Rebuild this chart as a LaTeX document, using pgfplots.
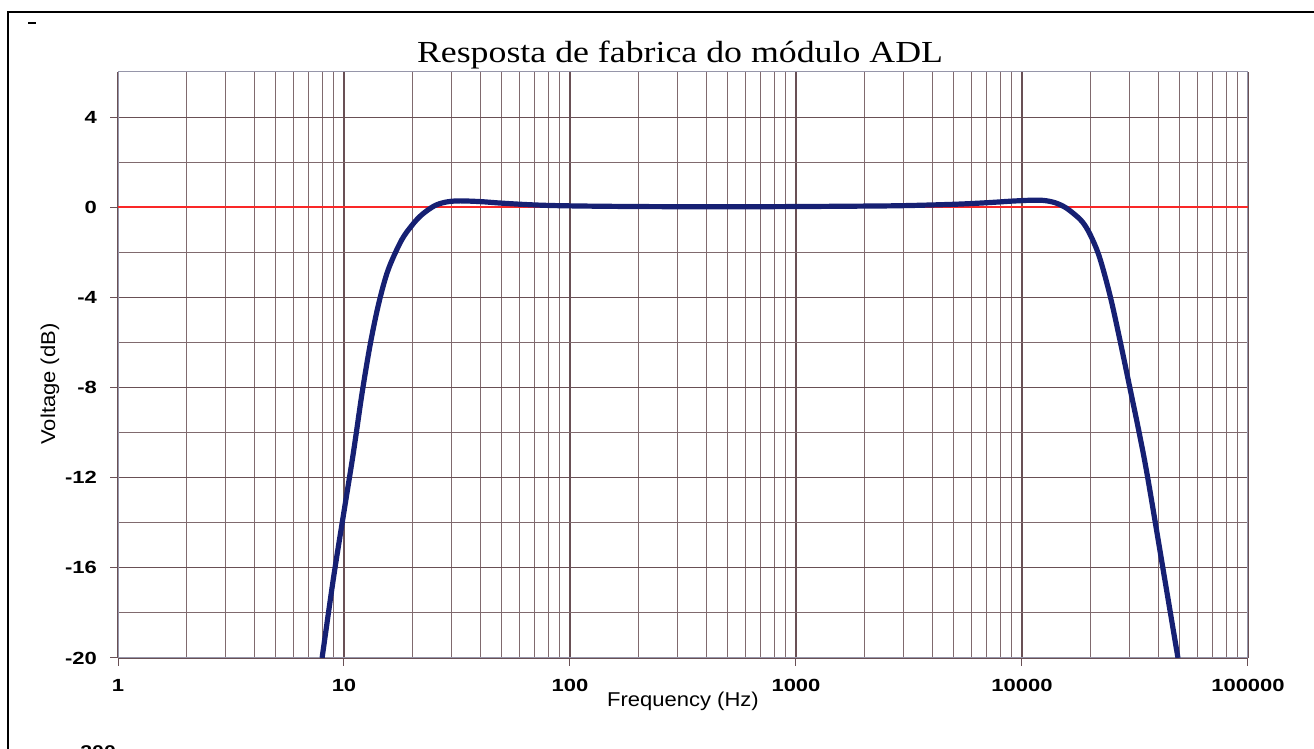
\documentclass[border=0pt]{standalone}
\usepackage{pgfplots}
\pgfplotsset{compat=1.18}
\usepackage{fontspec}
\setmainfont{Liberation Sans}
\newfontfamily\tickfont[FakeStretch=1.25]{Liberation Sans}
\newfontfamily\labfont[FakeStretch=1.1]{Liberation Sans}
\newfontfamily\titlefont[FakeStretch=1.17]{Liberation Serif}
\definecolor{curve}{RGB}{22,32,115}
\definecolor{zero}{RGB}{250,40,40}
\definecolor{gridc}{RGB}{105,80,85}
\definecolor{framec}{RGB}{150,150,170}
\begin{document}
\begin{tikzpicture}[x=1pt,y=1pt]
\useasboundingbox (0,0) rectangle (657,374.5);
\draw[line width=1.4pt] (4,-5) -- (4,368.5) -- (670,368.5);
\draw[line width=0.8pt] (14,363) -- (18,363);
\node[anchor=north west, inner sep=0pt, font=\tickfont\bfseries\fontsize{8.5}{10}\selectfont] at (40,2) {200};
\begin{axis}[
  at={(59pt,45.5pt)}, anchor=south west,
  scale only axis, width=565pt, height=293pt,
  xmode=log, log basis x=10,
  xmin=1, xmax=100000, ymin=-20, ymax=6,
  xtick={1,10,100,1000,10000,100000},
  xticklabels={1,10,100,1000,10000,100000},
  minor xtick={2,3,4,5,6,7,8,9,20,30,40,50,60,70,80,90,200,300,400,500,600,700,800,900,2000,3000,4000,5000,6000,7000,8000,9000,20000,30000,40000,50000,60000,70000,80000,90000},
  ytick={-20,-16,-12,-8,-4,0,4},
  yticklabels={-20,-16,-12,-8,-4,0,4},
  minor ytick={-18,-14,-10,-6,-2,2,6},
  xtick pos=bottom, ytick pos=left,
  grid=both,
  major grid style={gridc, line width=0.55pt},
  minor grid style={gridc!85, line width=0.5pt},
  tick align=outside,
  major tick length=4pt,
  minor tick length=0pt,
  tick style={gridc, line width=0.5pt},
  axis line style={framec, line width=0.5pt},
  ticklabel style={font=\tickfont\bfseries\fontsize{8.8}{10}\selectfont},
  xticklabel style={yshift=-3pt},
  yticklabel style={xshift=-3pt},
  clip=true,
]
\addplot[zero, line width=1pt] coordinates {(1,0) (100000,0)};
\addplot[curve, line width=2.6pt, smooth, tension=0.55] coordinates {
(8,-20) (9,-16.4) (10,-13.5) (11,-10.9) (12,-8.3) (13,-6.2) (14,-4.6) (15,-3.4)
(16,-2.55) (18,-1.45) (20,-0.8) (22,-0.35) (25,0.05) (28,0.22) (32,0.28)
(40,0.25) (50,0.18) (70,0.1) (100,0.06) (200,0.03) (500,0.02) (1000,0.03)
(2000,0.05) (3000,0.07) (5000,0.13) (7000,0.2) (9000,0.27) (11000,0.31)
(12500,0.3) (14000,0.2) (15500,0) (17000,-0.3) (18500,-0.65) (20000,-1.2)
(22000,-2.2) (24500,-3.9) (27000,-5.8) (30000,-8) (33000,-10) (36000,-12)
(42000,-16) (49000,-20)
};
\end{axis}
\node[anchor=base, font=\titlefont\fontsize{15.3}{18}\selectfont] at (340,343) {Resposta de fabrica do módulo ADL};
\node[anchor=base, font=\labfont\fontsize{10}{12}\selectfont] at (341.5,21) {Frequency (Hz)};
\node[anchor=base, rotate=90, font=\labfont\fontsize{10}{12}\selectfont] at (27.5,182.5) {Voltage (dB)};
\end{tikzpicture}
\end{document}
